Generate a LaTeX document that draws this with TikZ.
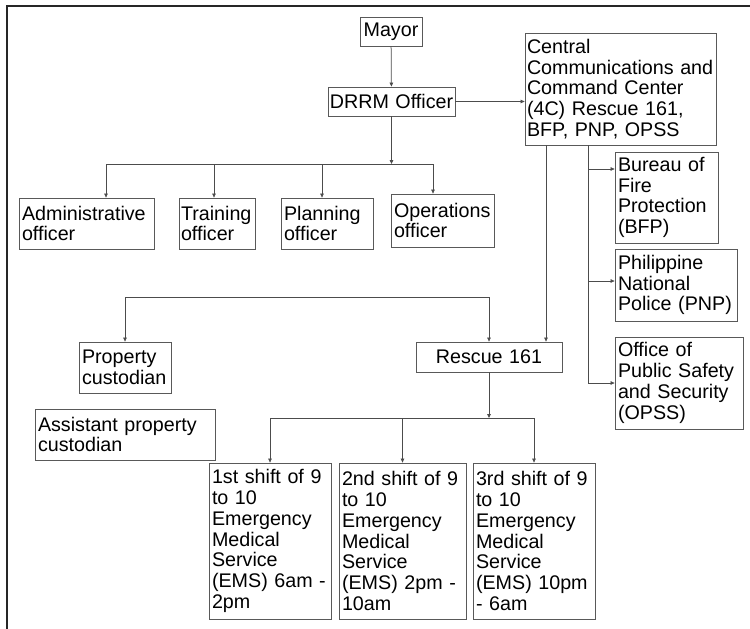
\documentclass[tikz,border=0pt]{standalone}
\usepackage{fontspec}
\setmainfont{Liberation Sans}
\usetikzlibrary{arrows.meta}

\begin{document}
\begin{tikzpicture}[x=1pt,y=-1pt,
  box/.style={draw=black!65, line width=0.8pt, inner xsep=3pt, inner ysep=0pt,
              align=left, font=\fontsize{19.7pt}{20.8pt}\selectfont, text=black},
  cbox/.style={box, align=center},
  link/.style={draw=black!70, line width=0.75pt},
  arr/.style={link, -{Triangle[length=4pt,width=3.6pt]}},
  frame/.style={draw=black!85, line width=1.4pt}]

\useasboundingbox (0,0) rectangle (750,629);
\draw[frame] (7,629) -- (7,6) -- (750,6);

% top of the chart
\node[cbox, minimum width=62pt, minimum height=29pt, text width=58pt, inner xsep=2pt] (mayor) at (391,31.5) {Mayor};
\node[cbox, minimum width=127pt, minimum height=29pt, text width=125pt, inner xsep=1pt] (drrm) at (391.5,101.5) {DRRM Officer};
\node[box, minimum width=191pt, minimum height=112pt, text width=187pt, inner xsep=2pt] (c4) at (620.5,89)
  {Central\\Communications and\\Command Center\\(4C) Rescue 161,\\BFP, PNP, OPSS};

% officers under the DRRM officer
\node[box, minimum width=135pt, minimum height=51pt, text width=129pt] (admin) at (86.5,223.5) {Administrative\\officer};
\node[box, minimum width=76pt, minimum height=51pt, text width=72pt, inner xsep=2pt] (train) at (217,223.5) {Training\\officer};
\node[box, minimum width=92pt, minimum height=51pt, text width=86pt] (plan) at (327,223.5) {Planning\\officer};
\node[box, minimum width=103pt, minimum height=53pt, text width=97pt] (ops) at (442.5,220.5) {Operations\\officer};

% agencies linked to the command center
\node[box, minimum width=103pt, minimum height=91pt, text width=97pt] (bfp) at (666.5,197.5) {Bureau of\\Fire\\Protection\\(BFP)};
\node[box, minimum width=122pt, minimum height=72pt, text width=116pt] (pnp) at (676,285) {Philippine\\National\\Police (PNP)};
\node[box, minimum width=128pt, minimum height=92pt, text width=122pt] (opss) at (679,383) {Office of\\Public Safety\\and Security\\(OPSS)};

% property and rescue units
\node[box, minimum width=92pt, minimum height=51pt, text width=86pt] (prop) at (125,367.5) {Property\\custodian};
\node[box, minimum width=180pt, minimum height=51pt, text width=174pt] (asst) at (125,434.5) {Assistant property\\custodian};
\node[cbox, minimum width=146pt, minimum height=30pt, text width=140pt] (rescue) at (489,357) {Rescue 161};

% EMS shifts
\node[box, minimum width=122pt, minimum height=156pt, text width=116pt] (s1) at (270,541)
  {1st shift of 9\\to 10\\Emergency\\Medical\\Service\\(EMS) 6am -\\2pm};
\node[box, minimum width=127pt, minimum height=156pt, text width=121pt] (s2) at (402.5,541)
  {2nd shift of 9\\to 10\\Emergency\\Medical\\Service\\(EMS) 2pm -\\10am};
\node[box, minimum width=122pt, minimum height=156pt, text width=116pt] (s3) at (534,541)
  {3rd shift of 9\\to 10\\Emergency\\Medical\\Service\\(EMS) 10pm\\- 6am};

% junction points
\coordinate (bus1) at (0,164);
\coordinate (d1) at (106,164);
\coordinate (d2) at (214,164);
\coordinate (d3) at (322,164);
\coordinate (d4) at (433,164);
\coordinate (cr) at (546,0);
\coordinate (br) at (588,0);
\coordinate (bfpin) at (0,169);
\coordinate (pnpin) at (0,281);
\coordinate (pl) at (125,297);
\coordinate (pr) at (489,297);
\coordinate (bus2) at (0,418);

% connectors
\draw[arr] (mayor) -- (drrm);
\draw[arr] (drrm.east) -- (drrm.east -| c4.west);

\draw[arr] (drrm.south) -- (drrm.south |- bus1);
\draw[link] (d1) -- (d4);
\draw[arr] (d1) -- (d1 |- admin.north);
\draw[arr] (d2) -- (d2 |- train.north);
\draw[arr] (d3) -- (d3 |- plan.north);
\draw[arr] (d4) -- (d4 |- ops.north);

\draw[arr] (c4.south -| cr) -- (rescue.north -| cr);
\draw[arr] (c4.south -| br) |- (opss.west);
\draw[arr] (br |- bfpin) -- (bfp.west |- bfpin);
\draw[arr] (br |- pnpin) -- (pnp.west |- pnpin);

\draw[link] (pl) -- (pr);
\draw[arr] (pl) -- (prop.north);
\draw[arr] (pr) -- (rescue.north);

\draw[arr] (rescue.south) -- (rescue.south |- bus2);
\draw[link] (s1.north |- bus2) -- (s3.north |- bus2);
\draw[arr] (s1.north |- bus2) -- (s1.north);
\draw[arr] (s2.north |- bus2) -- (s2.north);
\draw[arr] (s3.north |- bus2) -- (s3.north);
\end{tikzpicture}
\end{document}
